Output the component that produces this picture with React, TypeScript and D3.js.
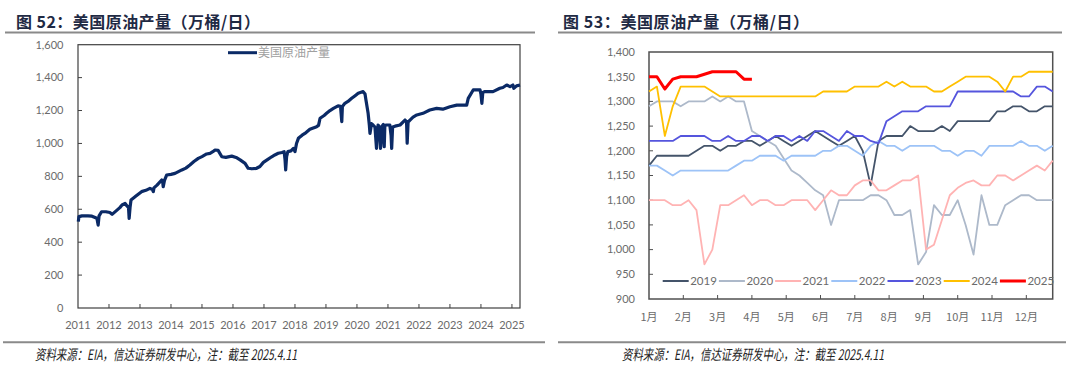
import React from "react";
import * as d3 from "d3";

// ---------- Left chart data (year fraction, 万桶/日) ----------
const leftTimes = [
  2011.01, 2011.03, 2011.13, 2011.32, 2011.45, 2011.55, 2011.61, 2011.65, 2011.68, 2011.76,
  2011.9, 2012.03, 2012.1, 2012.23, 2012.35, 2012.42, 2012.52, 2012.58, 2012.63, 2012.65,
  2012.68, 2012.71, 2012.87, 2013.05, 2013.19, 2013.32, 2013.4, 2013.43, 2013.45, 2013.55,
  2013.7, 2013.73, 2013.75, 2013.79, 2013.86, 2014.0, 2014.13, 2014.35, 2014.48, 2014.61,
  2014.74, 2014.88, 2015.0, 2015.15, 2015.26, 2015.35, 2015.42, 2015.52, 2015.64, 2015.77,
  2015.96, 2016.1, 2016.23, 2016.39, 2016.49, 2016.61, 2016.76, 2016.87, 2016.98, 2017.1,
  2017.25, 2017.35, 2017.46, 2017.58, 2017.65, 2017.68, 2017.7, 2017.73, 2017.77, 2017.87,
  2017.95, 2018.0, 2018.05, 2018.11, 2018.23, 2018.32, 2018.48, 2018.7, 2018.76, 2018.81,
  2018.94, 2019.02, 2019.13, 2019.24, 2019.39, 2019.47, 2019.51, 2019.53, 2019.61, 2019.71,
  2019.83, 2019.94, 2020.04, 2020.2, 2020.26, 2020.29, 2020.36, 2020.4, 2020.42, 2020.47,
  2020.52, 2020.58, 2020.63, 2020.68, 2020.73, 2020.76, 2020.81, 2020.85, 2020.88, 2020.9,
  2020.96, 2021.06, 2021.1, 2021.12, 2021.15, 2021.23, 2021.39, 2021.55, 2021.6, 2021.62,
  2021.65, 2021.71, 2021.81, 2021.93, 2022.13, 2022.35, 2022.57, 2022.77, 2023.0, 2023.22,
  2023.42, 2023.54, 2023.59, 2023.75, 2023.97, 2024.0, 2024.03, 2024.06, 2024.13, 2024.39,
  2024.61, 2024.71, 2024.83, 2024.94, 2025.03, 2025.06, 2025.15, 2025.26,
];
const leftValues = [
  525, 555, 560, 560, 558, 550, 545, 504, 560, 585,
  585, 580, 569, 590, 610, 626, 636, 620, 610, 545,
  612, 656, 680, 707, 715, 727, 720, 707, 730, 747,
  778, 770, 737, 775, 808, 812, 818, 839, 850, 869,
  890, 909, 920, 936, 940, 950, 960, 958, 919, 915,
  923, 915, 900, 879, 849, 846, 849, 860, 885, 900,
  919, 930, 940, 945, 950, 900, 839, 920, 950, 955,
  970, 950, 1000, 1031, 1050, 1061, 1086, 1102, 1110, 1153,
  1170, 1183, 1200, 1213, 1228, 1225, 1132, 1225, 1244, 1255,
  1274, 1290, 1305, 1315, 1300, 1264, 1183, 1110, 1061, 1120,
  1112, 1100, 970, 1112, 1100, 970, 1105, 1115, 980, 1110,
  1112, 1112, 1050, 970, 1100, 1105, 1112, 1142, 1130, 1001,
  1130, 1142, 1160, 1173, 1183, 1203, 1213, 1208, 1223, 1233,
  1233, 1233, 1274, 1325, 1325, 1300, 1244, 1310, 1315, 1315,
  1335, 1340, 1355, 1345, 1355, 1335, 1350, 1355,
];
const leftYears = d3.range(2011, 2026);
const leftYTicks = d3.range(0, 1601, 200);
const leftSeriesName = "美国原油产量";

// ---------- Right chart data (weekly, 万桶/日) ----------
const months = ["1月", "2月", "3月", "4月", "5月", "6月", "7月", "8月", "9月", "10月", "11月", "12月"];
const rightYTicks = d3.range(900, 1401, 50);
const years = ["2019", "2020", "2021", "2022", "2023", "2024", "2025"];
const v2019 = [
  1170, 1190, 1190, 1190, 1190, 1190, 1200, 1210, 1210, 1200,
  1210, 1210, 1220, 1220, 1210, 1220, 1230, 1220, 1210, 1220,
  1230, 1240, 1230, 1220, 1210, 1220, 1230, 1200, 1130, 1220,
  1230, 1230, 1230, 1250, 1240, 1240, 1240, 1250, 1240, 1260,
  1260, 1260, 1260, 1260, 1280, 1280, 1290, 1290, 1280, 1280,
  1290, 1290,
];
const v2020 = [
  1290, 1300, 1300, 1300, 1290, 1300, 1300, 1300, 1310, 1300,
  1310, 1300, 1300, 1240, 1230, 1220, 1210, 1185, 1160, 1150,
  1135, 1120, 1110, 1050, 1100, 1100, 1100, 1100, 1110, 1110,
  1100, 1070, 1070, 1080, 970, 995, 1090, 1070, 1070, 1100,
  1050, 990, 1110, 1050, 1050, 1090, 1100, 1110, 1110, 1100,
  1100, 1100,
];
const v2021 = [
  1100, 1100, 1100, 1090, 1090, 1100, 1080, 970, 1000, 1090,
  1090, 1100, 1110, 1090, 1100, 1100, 1090, 1090, 1100, 1100,
  1100, 1080, 1100, 1120, 1110, 1110, 1130, 1140, 1140, 1120,
  1120, 1130, 1140, 1140, 1150, 1000, 1010, 1060, 1110, 1125,
  1135, 1140, 1130, 1130, 1150, 1150, 1140, 1150, 1160, 1170,
  1160, 1180,
];
const v2022 = [
  1170, 1170, 1160, 1150, 1160, 1160, 1160, 1160, 1160, 1160,
  1160, 1170, 1180, 1180, 1190, 1190, 1190, 1180, 1190, 1190,
  1190, 1190, 1200, 1200, 1210, 1210, 1200, 1190, 1210, 1220,
  1210, 1210, 1200, 1210, 1210, 1210, 1210, 1200, 1200, 1190,
  1200, 1200, 1190, 1210, 1210, 1210, 1210, 1220, 1210, 1210,
  1200, 1210,
];
const v2023 = [
  1220, 1220, 1220, 1220, 1230, 1230, 1230, 1230, 1220, 1220,
  1230, 1220, 1220, 1230, 1230, 1220, 1230, 1230, 1220, 1230,
  1220, 1240, 1240, 1230, 1220, 1240, 1230, 1230, 1220, 1215,
  1260, 1270, 1280, 1280, 1280, 1290, 1290, 1290, 1290, 1320,
  1320, 1320, 1320, 1320, 1320, 1320, 1320, 1310, 1310, 1330,
  1330, 1320,
];
const v2024 = [
  1320, 1330, 1230, 1290, 1330, 1330, 1330, 1330, 1320, 1310,
  1310, 1310, 1310, 1310, 1310, 1310, 1310, 1310, 1310, 1310,
  1310, 1310, 1320, 1320, 1320, 1320, 1330, 1330, 1330, 1330,
  1340, 1330, 1340, 1330, 1330, 1330, 1320, 1320, 1330, 1340,
  1350, 1350, 1350, 1350, 1340, 1320, 1350, 1350, 1360, 1360,
  1360, 1360,
];
const v2025 = [1350, 1350, 1325, 1345, 1350, 1350, 1350, 1355, 1360, 1360, 1360, 1360, 1345, 1345];
const rightSeries = [v2019, v2020, v2021, v2022, v2023, v2024, v2025];
const rightColors = ["#44546A", "#ADB9CA", "#FFB3B3", "#9DC3F7", "#5555DD", "#FFC000", "#FF0000"];

const AXIS_FONT = "Lato, 'Liberation Sans', sans-serif";
const CJK = "'Noto Sans CJK SC', sans-serif";

function LeftChart() {
  const x = d3.scaleLinear().domain([2011, 2025.26]).range([78, 520]);
  const y = d3.scaleLinear().domain([0, 1600]).range([308, 44.7]);
  const pts = leftTimes.map((t, i) => [t, leftValues[i]] as [number, number]);
  const line = d3.line<[number, number]>().x((d) => x(d[0])).y((d) => y(d[1]));
  const fmt = d3.format(",");
  return (
    <g>
      <rect x={x(2011)} y={y(1600)} width={x(2025.26) - x(2011)} height={y(0) - y(1600)} fill="none" stroke="#404040" strokeWidth={1.2} />
      {leftYTicks.map((t) => (
        <g key={t}>
          {t > 0 && t < 1600 && <line x1={x(2011)} x2={x(2011) + 4} y1={y(t)} y2={y(t)} stroke="#404040" />}
          <text x={63.5} y={y(t)} dy="0.35em" textAnchor="end" fontSize={11} fill="#6b6b6b" fontFamily={AXIS_FONT}>{fmt(t)}</text>
        </g>
      ))}
      {leftYears.map((yr) => (
        <g key={yr}>
          {yr > 2011 && <line x1={x(yr)} x2={x(yr)} y1={y(0)} y2={y(0) - 4} stroke="#404040" />}
          <text x={x(yr)} y={325} dy="0.35em" textAnchor="middle" fontSize={11} fill="#6b6b6b" fontFamily={AXIS_FONT}>{yr}</text>
        </g>
      ))}
      <path d={line(pts) || ""} fill="none" stroke="#0B2A66" strokeWidth={3.2} strokeLinejoin="round" />
      <line x1={228} x2={257} y1={52.7} y2={52.7} stroke="#0B2A66" strokeWidth={3} />
      <text x={258} y={52.7} dy="0.35em" fontSize={12} fill="#a0a0a0" fontFamily={CJK}>{leftSeriesName}</text>
    </g>
  );
}

function RightChart() {
  const x = d3.scaleLinear().domain([0, 51]).range([649, 1052.7]);
  const y = d3.scaleLinear().domain([900, 1400]).range([299, 52]);
  const line = d3.line<number>().x((_, i) => x(i)).y((d) => y(d));
  const fmt = d3.format(",");
  const monthPos = (m: number) => x((m * 52) / 12);
  return (
    <g>
      <rect x={x(0)} y={y(1400)} width={x(51) - x(0)} height={y(900) - y(1400)} fill="none" stroke="#505050" strokeWidth={1.5} />
      {rightYTicks.map((t) => (
        <g key={t}>
          {t > 900 && t < 1400 && <line x1={x(0)} x2={x(0) + 4} y1={y(t)} y2={y(t)} stroke="#505050" />}
          <text x={635} y={y(t)} dy="0.35em" textAnchor="end" fontSize={11} fill="#6b6b6b" fontFamily={AXIS_FONT}>{fmt(t)}</text>
        </g>
      ))}
      {months.map((m, i) => (
        <g key={m}>
          {i > 0 && <line x1={monthPos(i)} x2={monthPos(i)} y1={y(900)} y2={y(900) - 4} stroke="#505050" />}
          <text x={monthPos(i)} y={317} dy="0.35em" textAnchor="middle" fontSize={11} fill="#6b6b6b" fontFamily={CJK}>{m}</text>
        </g>
      ))}
      {rightSeries.map((s, k) => (
        <path key={years[k]} d={line(s) || ""} fill="none" stroke={rightColors[k]} strokeWidth={k === 6 ? 3 : 1.8} strokeLinejoin="round" />
      ))}
      {years.map((yr, k) => {
        const lx = 662.7 + k * 56.2;
        return (
          <g key={yr}>
            <line x1={lx} x2={lx + 26} y1={281} y2={281} stroke={rightColors[k]} strokeWidth={k === 6 ? 3 : 2} />
            <text x={lx + 27.5} y={281} dy="0.35em" fontSize={11.5} fill="#6b6b6b" fontFamily={AXIS_FONT}>{yr}</text>
          </g>
        );
      })}
    </g>
  );
}

export default function App() {
  return (
    <svg width={1080} height={380} style={{ position: "absolute", left: 0, top: 0, background: "#fff" }}>
      <rect x={0} y={0} width={1080} height={380} fill="#fff" />
      <text x={16} y={27.5} fontSize={16} fontWeight="bold" fill="#1F2A44" fontFamily={CJK} textLength={244} lengthAdjust="spacing">图 52：美国原油产量（万桶/日）</text>
      <text x={563} y={27.5} fontSize={16} fontWeight="bold" fill="#1F2A44" fontFamily={CJK} textLength={246} lengthAdjust="spacing">图 53：美国原油产量（万桶/日）</text>
      <line x1={5} x2={535} y1={32.5} y2={32.5} stroke="#8a8a8a" strokeWidth={2} />
      <line x1={558} x2={1062} y1={32.5} y2={32.5} stroke="#8a8a8a" strokeWidth={2} />
      <LeftChart />
      <RightChart />
      <line x1={3} x2={545} y1={342.3} y2={342.3} stroke="#8a8a8a" strokeWidth={2} />
      <line x1={558} x2={1066} y1={342.3} y2={342.3} stroke="#8a8a8a" strokeWidth={2} />
      <text x={35} y={360} fontSize={14.5} fontStyle="italic" fill="#222" fontFamily={CJK} textLength={262} lengthAdjust="spacingAndGlyphs">资料来源：EIA，信达证券研发中心，注：截至 2025.4.11</text>
      <text x={622} y={360} fontSize={14.5} fontStyle="italic" fill="#222" fontFamily={CJK} textLength={262} lengthAdjust="spacingAndGlyphs">资料来源：EIA，信达证券研发中心，注：截至 2025.4.11</text>
    </svg>
  );
}
